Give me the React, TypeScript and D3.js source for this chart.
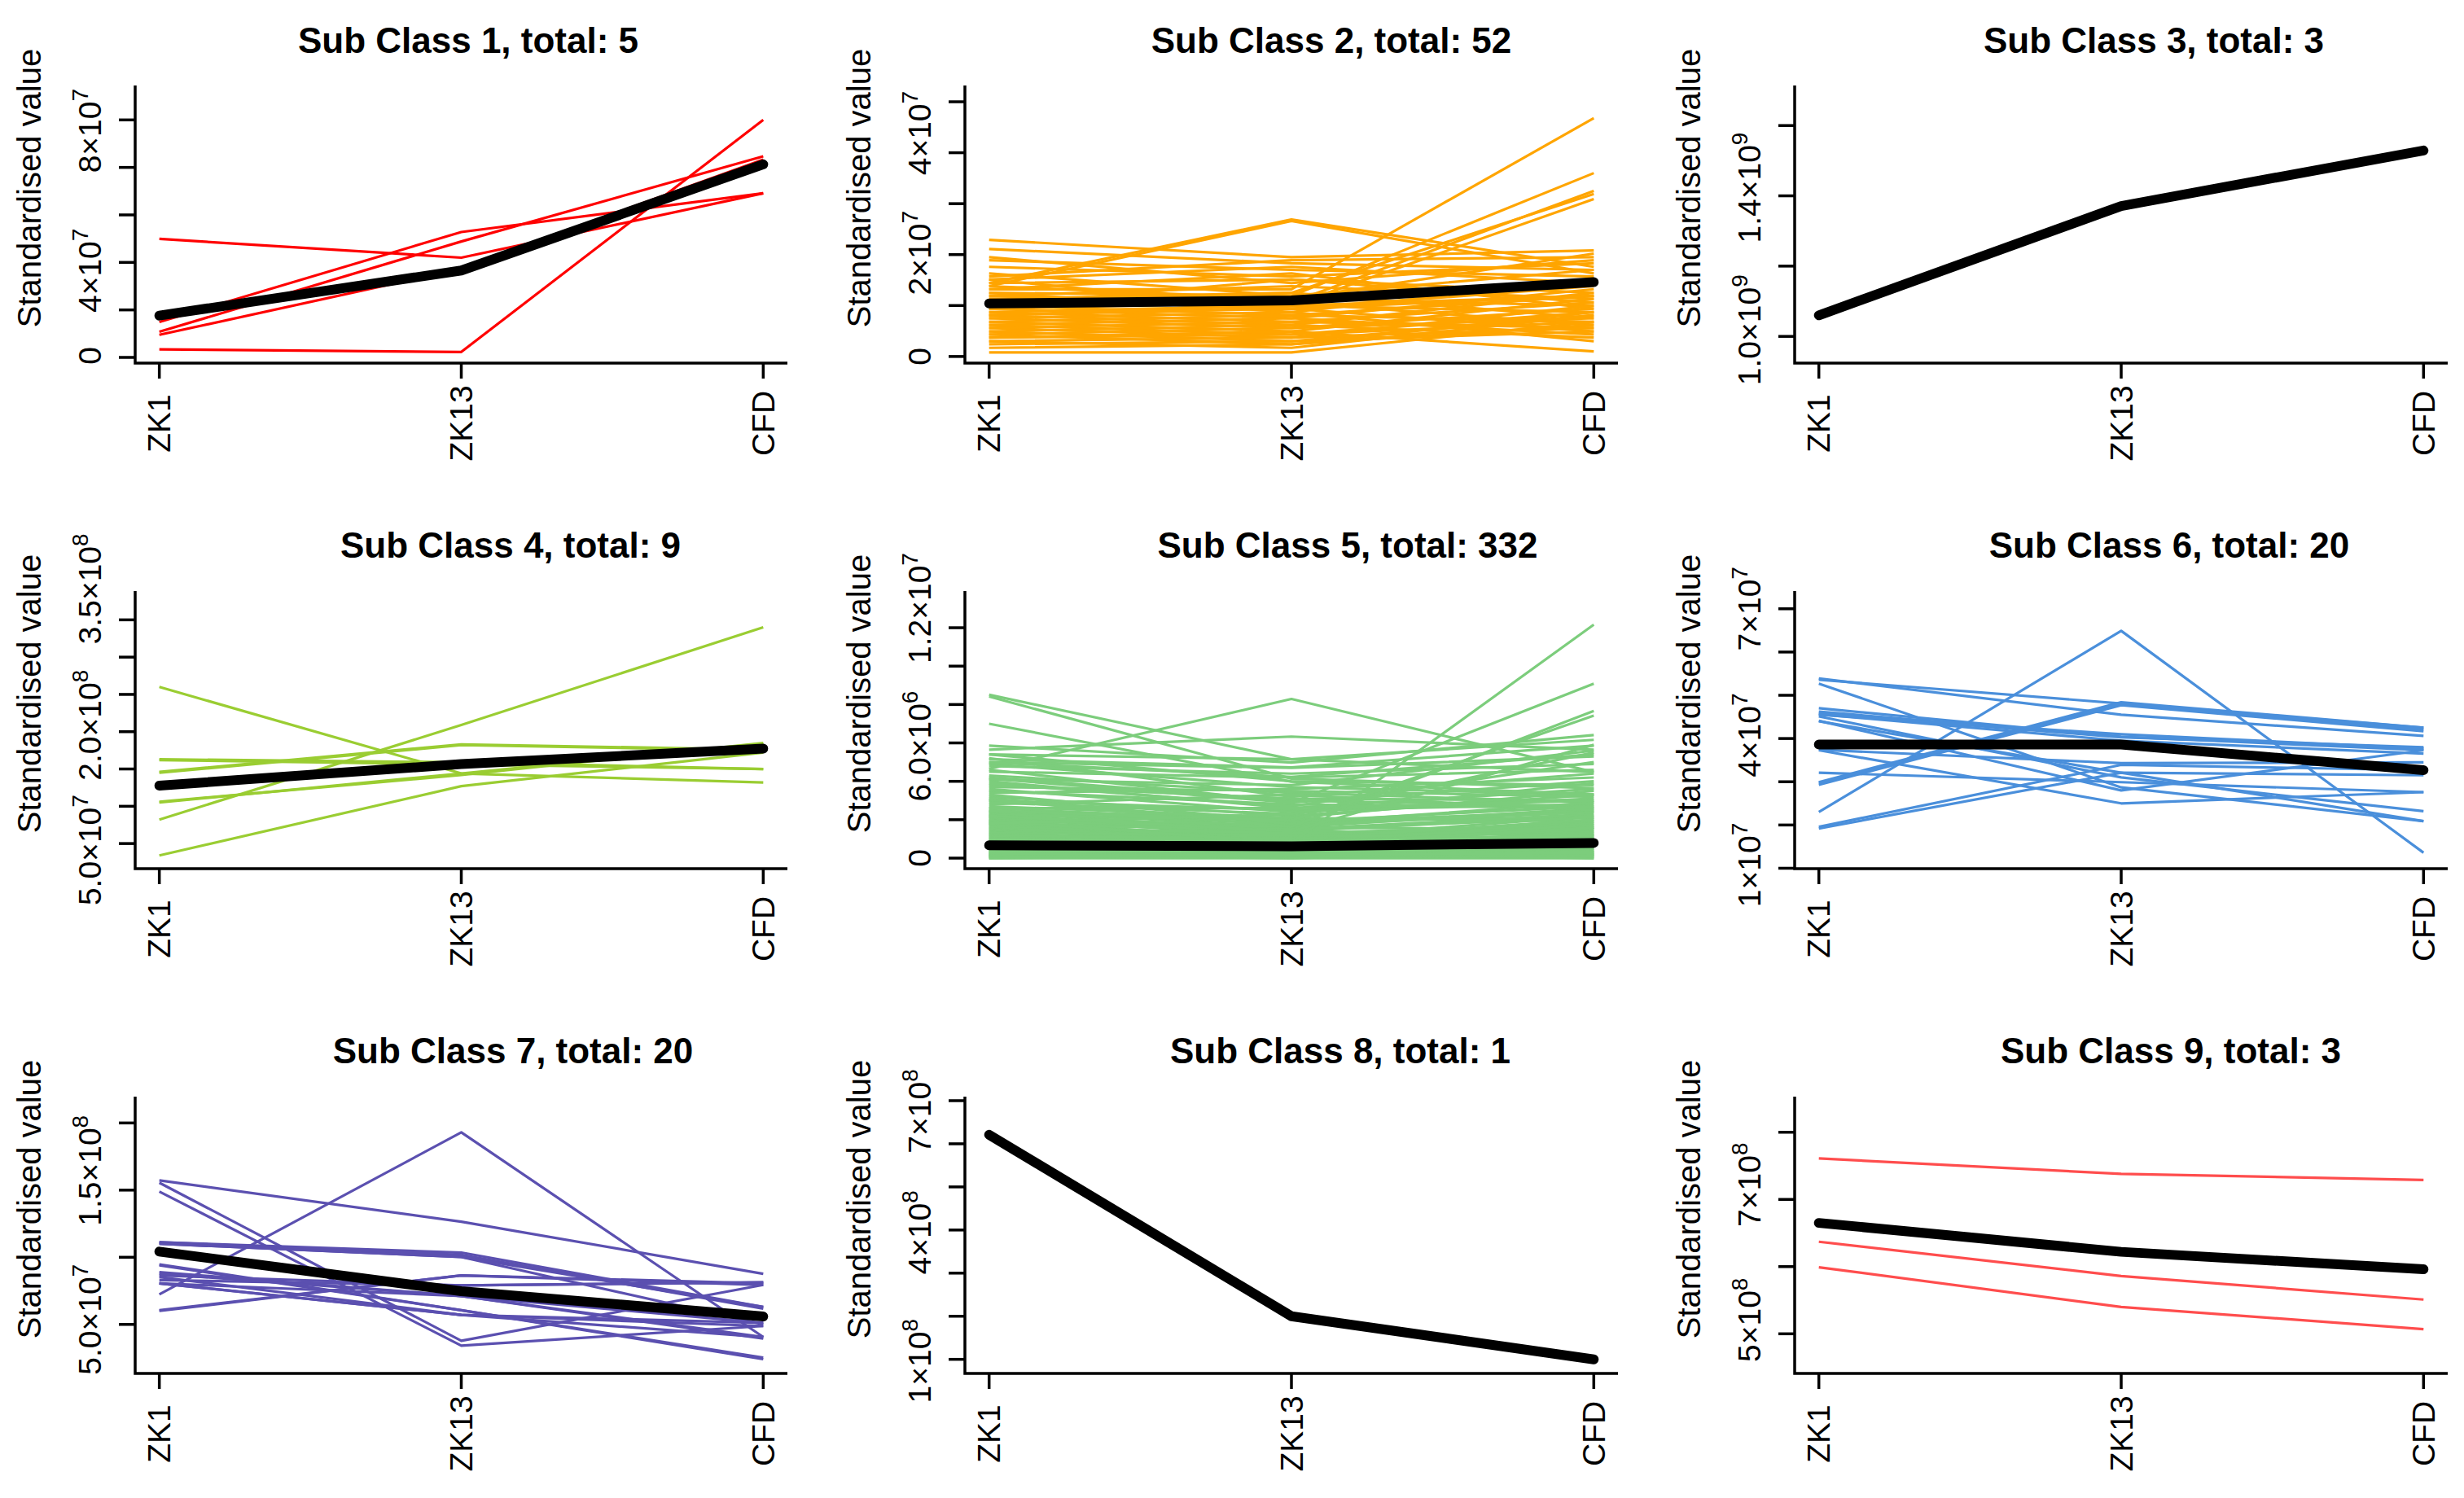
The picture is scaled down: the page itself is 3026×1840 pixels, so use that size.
import * as d3 from 'd3';

const WIDTH = 3026;
const HEIGHT = 1840;

const stages = ['ZK1', 'ZK13', 'CFD'];

type TickLabel = [number, string, string];

// Sub Class 1 — values in units of 1e7
const sub1Members = [
  [4.99, 4.2, 6.91],
  [0.34, 0.23, 10.0],
  [1.49, 5.28, 6.91],
  [1.08, 4.88, 8.47],
  [0.95, 3.73, 8.33],
];
const sub1Mean = [1.76, 3.66, 8.13];
const sub1Domain = [-0.24, 11.45];
const sub1Ticks = [0, 2, 4, 6, 8, 10];
const sub1Labels: TickLabel[] = [[0, '0', ''], [4, '4×10', '7'], [8, '8×10', '7']];

// Sub Class 2 — units of 1e7
const sub2Members = [
  [2.29, 1.95, 2.08], [2.11, 1.83, 1.7], [1.95, 1.44, 1.89], [1.89, 1.7, 1.57],
  [1.76, 1.57, 1.83], [1.44, 2.69, 1.76], [1.38, 2.66, 1.63], [1.32, 1.32, 4.68],
  [1.25, 1.19, 3.6], [1.19, 1.06, 3.25], [1.13, 1.25, 3.19], [1.06, 1.0, 3.09],
  [1.57, 1.89, 1.95], [1.51, 1.76, 1.44], [1.44, 1.51, 1.25], [1.38, 1.13, 2.02],
  [1.32, 1.63, 0.94], [1.25, 0.87, 1.51], [1.19, 1.38, 1.13], [1.13, 0.94, 1.38],
  [1.06, 1.25, 0.75], [1.0, 0.81, 1.19], [1.0, 1.13, 1.0], [0.94, 0.75, 1.32],
  [0.94, 1.06, 0.62], [0.87, 0.68, 1.06], [0.87, 1.0, 0.87], [0.81, 0.62, 1.25],
  [0.81, 0.94, 0.49], [0.75, 0.56, 0.94], [0.75, 0.87, 0.3], [0.68, 0.49, 1.13],
  [0.68, 0.81, 0.68], [0.62, 0.43, 0.87], [0.62, 0.75, 0.43], [0.56, 0.37, 1.0],
  [0.56, 0.68, 0.56], [0.49, 0.3, 0.81], [0.49, 0.62, 0.37], [0.43, 0.56, 0.75],
  [0.43, 0.24, 0.62], [0.37, 0.49, 0.1], [0.37, 0.43, 0.68], [0.3, 0.37, 0.56],
  [0.3, 0.17, 0.81], [0.24, 0.3, 0.49], [0.17, 0.24, 0.87], [0.08, 0.08, 0.68],
  [1.63, 1.19, 1.7], [1.51, 0.94, 1.19], [1.0, 1.51, 1.06], [0.81, 1.0, 1.19],
];
const sub2Mean = [1.04, 1.1, 1.46];
const sub2Domain = [-0.13, 5.32];
const sub2Ticks = [0, 1, 2, 3, 4, 5];
const sub2Labels: TickLabel[] = [[0, '0', ''], [2, '2×10', '7'], [4, '4×10', '7']];

// Sub Class 3 — units of 1e9
const sub3Members: number[][] = [];
const sub3Mean = [1.06, 1.371, 1.529];
const sub3Domain = [0.924, 1.714];
const sub3Ticks = [1.0, 1.2, 1.4, 1.6];
const sub3Labels: TickLabel[] = [[1.0, '1.0×10', '9'], [1.4, '1.4×10', '9']];

// Sub Class 4 — units of 1e8
const sub4Members = [
  [2.6, 1.44, 1.32], [0.82, 2.09, 3.4], [0.34, 1.27, 1.72],
  [1.63, 1.59, 1.5], [1.46, 1.83, 1.76], [1.06, 1.42, 1.85],
  [1.62, 1.56, 1.5], [1.45, 1.82, 1.75], [1.05, 1.44, 1.84],
];
const sub4Mean = [1.277, 1.566, 1.773];
const sub4Domain = [0.163, 3.886];
const sub4Ticks = [0.5, 1.0, 1.5, 2.0, 2.5, 3.0, 3.5];
const sub4Labels: TickLabel[] = [[0.5, '5.0×10', '7'], [2.0, '2.0×10', '8'], [3.5, '3.5×10', '8']];

// Sub Class 5 — units of 1e6
const sub5Members = [
  [2.6, 1.9, 2.4], [2.5, 1.6, 2.6], [2.45, 2.1, 1.9], [2.4, 1.4, 2.2], [2.35, 1.8, 2.5],
  [2.3, 1.2, 1.8], [2.25, 2.0, 2.1], [2.2, 1.5, 2.3], [2.15, 1.1, 1.6], [2.1, 1.7, 2.4],
  [2.05, 1.3, 1.7], [2.0, 0.9, 2.0], [1.95, 1.6, 1.5], [1.9, 1.0, 2.2], [1.85, 1.4, 1.3],
  [1.8, 0.8, 1.9], [1.75, 1.5, 2.1], [1.7, 1.2, 1.4], [1.65, 0.7, 1.8], [1.6, 1.3, 1.2],
  [1.55, 1.0, 2.0], [1.5, 0.6, 1.6], [1.45, 1.1, 1.1], [1.4, 0.9, 1.7], [1.35, 0.5, 1.4],
  [1.3, 1.2, 1.0], [1.25, 0.8, 1.5], [1.2, 0.4, 1.2], [1.15, 1.0, 0.9], [1.1, 0.7, 1.6],
  [1.05, 0.3, 1.1], [1.0, 0.9, 0.8], [0.95, 0.6, 1.3], [0.9, 0.2, 1.0], [0.85, 0.8, 0.7],
  [0.8, 0.5, 1.2], [0.75, 0.3, 0.9], [0.7, 0.7, 0.6], [0.65, 0.4, 1.0], [0.6, 0.2, 0.8],
  [0.55, 0.6, 0.5], [0.5, 0.3, 0.9], [0.45, 0.1, 0.6], [0.4, 0.5, 0.4], [0.35, 0.2, 0.7],
  [0.3, 0.4, 0.3], [0.25, 0.1, 0.5], [0.2, 0.3, 0.2], [0.15, 0.0, 0.4], [0.1, 0.2, 0.1],
  [0.05, 0.1, 0.3], [0.0, 0.0, 0.0], [0.1, 0.05, 0.15], [0.2, 0.15, 0.05], [0.3, 0.25, 0.2],
  [0.0, 0.1, 0.2], [0.15, 0.3, 0.0], [0.25, 0.05, 0.35], [0.4, 0.35, 0.1], [0.05, 0.2, 0.25],
  [3.0, 2.5, 2.8], [3.2, 2.2, 3.3], [3.5, 2.8, 2.6], [3.8, 3.1, 3.0], [4.0, 2.6, 3.6],
  [4.3, 3.4, 2.9], [4.6, 2.9, 4.0], [4.9, 3.7, 3.3], [5.2, 3.2, 4.4], [5.4, 4.0, 3.8],
  [2.8, 3.3, 2.5], [3.4, 3.6, 4.2], [3.6, 2.4, 3.1], [4.2, 3.0, 2.7], [4.5, 4.2, 4.6],
  [2.7, 2.1, 3.5], [3.1, 1.8, 2.9], [3.9, 2.7, 5.0], [4.8, 4.4, 4.9], [5.0, 4.7, 5.3],
  [2.9, 2.3, 3.9], [3.3, 1.9, 2.7], [3.7, 3.5, 3.2], [4.1, 3.8, 5.6], [2.6, 2.6, 3.0],
  [8.51, 5.15, 4.48], [8.42, 4.14, 3.64], [7.0, 3.98, 3.31], [4.65, 8.29, 4.48], [5.65, 6.33, 5.65],
  [1.96, 0.79, 12.16], [4.14, 2.89, 9.09], [3.05, 1.63, 7.67], [2.47, 1.96, 7.42], [5.86, 4.98, 6.41],
  [5.4, 5.15, 6.16], [5.15, 4.73, 5.86], [4.98, 4.23, 5.4], [2.2, 1.4, 5.9], [1.8, 2.3, 5.5],
];
const sub5Mean = [0.67, 0.62, 0.79];
const sub5Domain = [-0.55, 13.91];
const sub5Ticks = [0, 2, 4, 6, 8, 10, 12];
const sub5Labels: TickLabel[] = [[0, '0', ''], [6, '6.0×10', '6'], [12, '1.2×10', '7']];

// Sub Class 6 — units of 1e7
const sub6Members = [
  [2.3, 6.49, 1.36], [5.39, 4.55, 4.06], [5.36, 4.81, 4.25], [5.27, 2.87, 2.09],
  [2.99, 4.84, 4.25], [2.93, 4.77, 4.17], [1.96, 3.39, 3.27], [1.92, 3.21, 3.15],
  [3.21, 2.99, 2.76], [3.74, 3.43, 3.45], [4.7, 4.04, 3.77], [4.62, 4.04, 3.73],
  [4.56, 3.95, 3.65], [4.51, 3.1, 2.32], [4.41, 2.8, 3.73], [4.58, 4.03, 3.8],
  [3.73, 2.5, 2.76], [4.55, 4.1, 3.77], [2.97, 4.81, 4.21], [4.4, 3.21, 2.09],
];
const sub6Mean = [3.86, 3.86, 3.27];
const sub6Domain = [0.99, 7.41];
const sub6Ticks = [1, 2, 3, 4, 5, 6, 7];
const sub6Labels: TickLabel[] = [[1, '1×10', '7'], [4, '4×10', '7'], [7, '7×10', '7']];

// Sub Class 7 — units of 1e8
const sub7Members = [
  [0.724, 1.93, 0.406], [1.572, 1.265, 0.877], [1.555, 0.378, 0.794], [1.489, 0.342, 0.488],
  [1.112, 1.035, 0.63], [1.101, 1.002, 0.5], [0.94, 0.606, 0.241], [0.865, 0.79, 0.813],
  [0.806, 0.712, 0.394], [0.601, 0.865, 0.806], [0.806, 0.571, 0.512], [0.889, 0.712, 0.406],
  [1.112, 1.018, 0.618], [0.853, 0.571, 0.488], [0.83, 0.79, 0.813], [0.947, 0.606, 0.253],
  [0.877, 0.712, 0.512], [1.101, 1.002, 0.63], [0.806, 0.571, 0.406], [0.606, 0.865, 0.794],
];
const sub7Mean = [1.042, 0.747, 0.559];
const sub7Domain = [0.135, 2.196];
const sub7Ticks = [0.5, 1.0, 1.5, 2.0];
const sub7Labels: TickLabel[] = [[0.5, '5.0×10', '7'], [1.5, '1.5×10', '8']];

// Sub Class 8 — units of 1e8
const sub8Members: number[][] = [];
const sub8Mean = [6.21, 2.0, 1.0];
const sub8Domain = [0.673, 7.094];
const sub8Ticks = [1, 2, 3, 4, 5, 6, 7];
const sub8Labels: TickLabel[] = [[1, '1×10', '8'], [4, '4×10', '8'], [7, '7×10', '8']];

// Sub Class 9 — units of 1e8
const sub9Members = [
  [7.61, 7.38, 7.29],
  [6.37, 5.86, 5.51],
  [5.99, 5.4, 5.07],
];
const sub9Mean = [6.65, 6.22, 5.96];
const sub9Domain = [4.41, 8.53];
const sub9Ticks = [5, 6, 7, 8];
const sub9Labels: TickLabel[] = [[5, '5×10', '8'], [7, '7×10', '8']];

const panelTitles = [
  'Sub Class 1, total: 5', 'Sub Class 2, total: 52', 'Sub Class 3, total: 3',
  'Sub Class 4, total: 9', 'Sub Class 5, total: 332', 'Sub Class 6, total: 20',
  'Sub Class 7, total: 20', 'Sub Class 8, total: 1', 'Sub Class 9, total: 3',
];

const panels = [
  { members: sub1Members, mean: sub1Mean, domain: sub1Domain, ticks: sub1Ticks, labels: sub1Labels },
  { members: sub2Members, mean: sub2Mean, domain: sub2Domain, ticks: sub2Ticks, labels: sub2Labels },
  { members: sub3Members, mean: sub3Mean, domain: sub3Domain, ticks: sub3Ticks, labels: sub3Labels },
  { members: sub4Members, mean: sub4Mean, domain: sub4Domain, ticks: sub4Ticks, labels: sub4Labels },
  { members: sub5Members, mean: sub5Mean, domain: sub5Domain, ticks: sub5Ticks, labels: sub5Labels },
  { members: sub6Members, mean: sub6Mean, domain: sub6Domain, ticks: sub6Ticks, labels: sub6Labels },
  { members: sub7Members, mean: sub7Mean, domain: sub7Domain, ticks: sub7Ticks, labels: sub7Labels },
  { members: sub8Members, mean: sub8Mean, domain: sub8Domain, ticks: sub8Ticks, labels: sub8Labels },
  { members: sub9Members, mean: sub9Mean, domain: sub9Domain, ticks: sub9Ticks, labels: sub9Labels },
];

// styling / layout (kept apart from the data)
const panelColors = ['#ff0000', '#ffa500', '#000000', '#9acd32', '#7ccd7c', '#4a8fdb', '#5b50b0', '#000000', '#ff4d4d'];
const colLeft = [166, 1185, 2204];
const colRight = [967, 1987, 3006];
const rowTop = [105, 726, 1347];
const rowBottom = [446, 1067, 1687];
const titleX = [575, 1635, 2645, 627, 1655, 2664, 630, 1646, 2666];
const titleY = [65, 685, 1306];
// vertical nudge of each y tick label, as placed in the original figure
const labelShift = [
  [-2, 10, -45],
  [0, -2, -24],
  [-8, -10],
  [8, -8, -38],
  [0, 4, -24],
  [-4, -4, 0],
  [-6, -24],
  [2, 3, 13],
  [-17, -18],
];

const FONT = '"Liberation Sans", Arial, Helvetica, sans-serif';

function Panel({ i }: { i: number }) {
  const p = panels[i];
  const row = Math.floor(i / 3);
  const col = i % 3;
  const left = colLeft[col];
  const right = colRight[col];
  const top = rowTop[row];
  const bottom = rowBottom[row];

  const x = d3.scaleLinear().domain([0.92, 3.08]).range([left, right]);
  const y = d3.scaleLinear().domain(p.domain).range([bottom, top]);

  const line = d3.line<number>()
    .x((_, j) => x(j + 1))
    .y(d => y(d));

  return (
    <g>
      {/* member profiles */}
      <g fill="none" stroke={panelColors[i]} strokeWidth={3.2} strokeLinejoin="round">
        {p.members.map((m, k) => (
          <path key={k} d={line(m) || ''} />
        ))}
      </g>
      {/* centroid */}
      <path
        d={line(p.mean) || ''}
        fill="none"
        stroke="#000"
        strokeWidth={12}
        strokeLinecap="round"
        strokeLinejoin="round"
      />

      {/* axes (L box) */}
      <path
        d={`M${left},${top}V${bottom}H${right}`}
        fill="none"
        stroke="#000"
        strokeWidth={3.5}
      />
      {p.ticks.map(t => (
        <line key={t} x1={left} x2={left - 20} y1={y(t)} y2={y(t)} stroke="#000" strokeWidth={3.5} />
      ))}
      {p.labels.map(([v, base, exp], k) => (
        <text
          key={v}
          transform={`translate(${left - 42},${y(v) + labelShift[i][k]}) rotate(-90)`}
          textAnchor="middle"
          fontSize={39}
          fontFamily={FONT}
        >
          {base}
          {exp && <tspan fontSize={28} dy={-16}>{exp}</tspan>}
        </text>
      ))}
      {stages.map((s, j) => (
        <g key={s}>
          <line x1={x(j + 1)} x2={x(j + 1)} y1={bottom} y2={bottom + 19} stroke="#000" strokeWidth={3.5} />
          <text
            transform={`translate(${x(j + 1)},${bottom + 74}) rotate(-90)`}
            textAnchor="middle"
            dominantBaseline="central"
            fontSize={39}
            fontFamily={FONT}
          >
            {s}
          </text>
        </g>
      ))}

      <text
        transform={`translate(${left - 116},${top + 126}) rotate(-90)`}
        textAnchor="middle"
        fontSize={40}
        fontFamily={FONT}
      >
        Standardised value
      </text>
      <text
        x={titleX[i]}
        y={titleY[row]}
        textAnchor="middle"
        fontSize={44}
        fontWeight="bold"
        fontFamily={FONT}
      >
        {panelTitles[i]}
      </text>
    </g>
  );
}

export default function App() {
  return (
    <svg
      width={WIDTH}
      height={HEIGHT}
      viewBox={`0 0 ${WIDTH} ${HEIGHT}`}
      style={{ position: 'absolute', left: 0, top: 0, background: '#fff' }}
    >
      <rect width={WIDTH} height={HEIGHT} fill="#fff" />
      {panels.map((_, i) => (
        <Panel key={i} i={i} />
      ))}
    </svg>
  );
}
